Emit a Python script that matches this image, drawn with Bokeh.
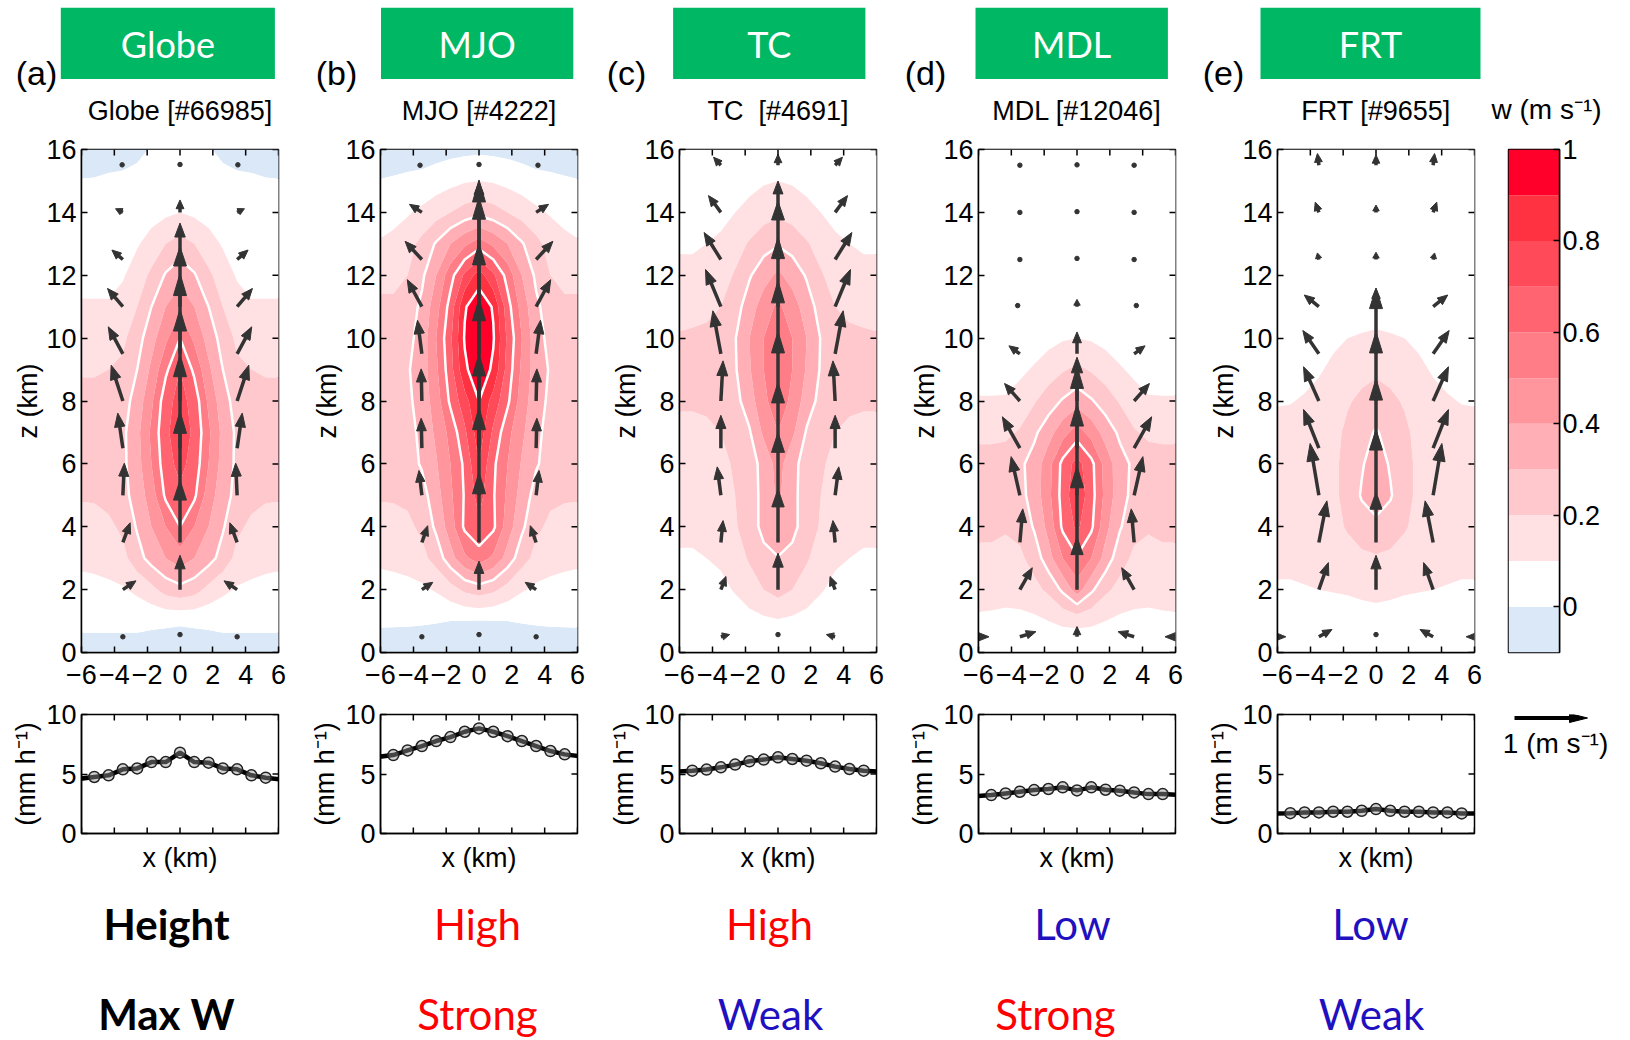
import math
import numpy as np
from bokeh.plotting import figure
from bokeh.layouts import column, row
from bokeh.models import Range1d, FixedTicker
from bokeh.core.properties import value
from bokeh.embed import file_html
from bokeh.resources import INLINE

# ------------------------------------------------------------------ data
BOX_LABELS = ["Globe", "MJO", "TC", "MDL", "FRT"]
PANEL_LETTERS = ["(a)", "(b)", "(c)", "(d)", "(e)"]
PANEL_TITLES = ["Globe [#66985]", "MJO [#4222]", "TC\u00a0 [#4691]", "MDL [#12046]", "FRT [#9655]"]
ROW_HEADERS = ["Height", "Max W"]
HEIGHT_CLASS = ["High", "High", "Low", "Low"]
MAXW_CLASS = ["Strong", "Weak", "Strong", "Weak"]

# w (m/s) on a half grid (x >= 0, mirrored), rows z = 0..16 km
X_HALF = [0.0, 0.87, 1.74, 2.61, 3.48, 4.35, 5.22, 6.09]
Z_ROWS = [0, 1, 2, 3, 4, 5, 6, 7, 8, 9, 10, 11, 12, 13, 14, 15, 16]

W_GLOBE = [
    [-0.05, -0.05, -0.05, -0.05, -0.05, -0.05, -0.05, -0.05],
    [0.01, 0.015, 0.02, 0.03, 0.03, 0.03, 0.03, 0.03],
    [0.27, 0.24, 0.17, 0.12, 0.09, 0.08, 0.07, 0.07],
    [0.45, 0.40, 0.34, 0.26, 0.17, 0.14, 0.13, 0.12],
    [0.60, 0.50, 0.40, 0.31, 0.22, 0.18, 0.17, 0.16],
    [0.68, 0.62, 0.45, 0.34, 0.27, 0.23, 0.21, 0.21],
    [0.73, 0.66, 0.50, 0.36, 0.28, 0.25, 0.24, 0.24],
    [0.76, 0.68, 0.52, 0.37, 0.28, 0.26, 0.25, 0.25],
    [0.74, 0.66, 0.48, 0.34, 0.26, 0.24, 0.23, 0.23],
    [0.70, 0.58, 0.42, 0.30, 0.22, 0.20, 0.19, 0.19],
    [0.60, 0.48, 0.36, 0.26, 0.18, 0.16, 0.15, 0.15],
    [0.48, 0.40, 0.30, 0.20, 0.14, 0.11, 0.11, 0.11],
    [0.36, 0.31, 0.22, 0.15, 0.09, 0.07, 0.07, 0.07],
    [0.24, 0.20, 0.14, 0.09, 0.05, 0.04, 0.04, 0.04],
    [0.10, 0.08, 0.06, 0.04, 0.03, 0.02, 0.02, 0.02],
    [0.04, 0.03, 0.025, 0.02, 0.015, 0.012, 0.005, 0.003],
    [0.02, 0.015, 0.005, -0.015, -0.03, -0.035, -0.04, -0.04],
]
W_MJO = [
    [-0.06, -0.06, -0.06, -0.06, -0.06, -0.06, -0.06, -0.06],
    [-0.004, -0.003, 0.0, 0.005, 0.01, 0.013, 0.015, 0.016],
    [0.25, 0.22, 0.16, 0.11, 0.08, 0.07, 0.06, 0.06],
    [0.55, 0.48, 0.36, 0.24, 0.17, 0.14, 0.13, 0.12],
    [0.68, 0.62, 0.45, 0.32, 0.22, 0.18, 0.17, 0.16],
    [0.74, 0.61, 0.48, 0.36, 0.26, 0.22, 0.21, 0.21],
    [0.80, 0.62, 0.50, 0.39, 0.31, 0.26, 0.24, 0.24],
    [0.86, 0.68, 0.53, 0.42, 0.32, 0.27, 0.26, 0.26],
    [0.90, 0.76, 0.62, 0.45, 0.34, 0.28, 0.26, 0.26],
    [0.97, 0.88, 0.66, 0.48, 0.35, 0.29, 0.27, 0.27],
    [1.00, 0.91, 0.68, 0.50, 0.34, 0.27, 0.25, 0.25],
    [0.97, 0.89, 0.64, 0.46, 0.32, 0.25, 0.22, 0.22],
    [0.85, 0.72, 0.56, 0.40, 0.28, 0.20, 0.17, 0.17],
    [0.55, 0.48, 0.40, 0.31, 0.23, 0.16, 0.12, 0.105],
    [0.27, 0.24, 0.20, 0.16, 0.12, 0.09, 0.075, 0.07],
    [0.10, 0.09, 0.07, 0.05, 0.03, 0.02, 0.01, 0.003],
    [-0.02, -0.025, -0.03, -0.04, -0.05, -0.05, -0.05, -0.05],
]
W_TC = [
    [0.02, 0.02, 0.02, 0.02, 0.02, 0.02, 0.02, 0.02],
    [0.09, 0.08, 0.06, 0.04, 0.03, 0.02, 0.02, 0.02],
    [0.24, 0.20, 0.16, 0.11, 0.07, 0.06, 0.05, 0.05],
    [0.295, 0.27, 0.21, 0.16, 0.12, 0.10, 0.09, 0.09],
    [0.38, 0.33, 0.25, 0.19, 0.15, 0.13, 0.12, 0.12],
    [0.42, 0.33, 0.25, 0.20, 0.16, 0.15, 0.15, 0.15],
    [0.44, 0.33, 0.26, 0.21, 0.18, 0.17, 0.17, 0.17],
    [0.50, 0.42, 0.29, 0.23, 0.20, 0.19, 0.19, 0.19],
    [0.55, 0.48, 0.35, 0.27, 0.23, 0.21, 0.205, 0.205],
    [0.58, 0.50, 0.39, 0.29, 0.25, 0.24, 0.23, 0.23],
    [0.58, 0.50, 0.40, 0.295, 0.25, 0.23, 0.22, 0.21],
    [0.52, 0.45, 0.35, 0.26, 0.20, 0.17, 0.16, 0.16],
    [0.42, 0.36, 0.29, 0.21, 0.16, 0.13, 0.12, 0.12],
    [0.29, 0.26, 0.21, 0.16, 0.12, 0.10, 0.09, 0.09],
    [0.18, 0.16, 0.13, 0.10, 0.07, 0.05, 0.05, 0.05],
    [0.10, 0.09, 0.07, 0.05, 0.04, 0.03, 0.03, 0.03],
    [0.05, 0.05, 0.04, 0.03, 0.03, 0.02, 0.02, 0.02],
]
W_MDL = [
    [0.0, 0.01, 0.015, 0.02, 0.02, 0.02, 0.02, 0.02],
    [0.13, 0.12, 0.10, 0.08, 0.07, 0.07, 0.075, 0.08],
    [0.45, 0.32, 0.22, 0.17, 0.15, 0.14, 0.15, 0.15],
    [0.59, 0.50, 0.36, 0.24, 0.18, 0.17, 0.18, 0.18],
    [0.72, 0.62, 0.43, 0.31, 0.23, 0.21, 0.22, 0.22],
    [0.78, 0.64, 0.47, 0.34, 0.27, 0.25, 0.25, 0.25],
    [0.74, 0.63, 0.46, 0.34, 0.28, 0.25, 0.25, 0.25],
    [0.55, 0.46, 0.36, 0.28, 0.21, 0.18, 0.17, 0.17],
    [0.36, 0.31, 0.25, 0.19, 0.14, 0.11, 0.11, 0.11],
    [0.22, 0.19, 0.15, 0.11, 0.08, 0.06, 0.05, 0.05],
    [0.10, 0.09, 0.07, 0.05, 0.03, 0.02, 0.02, 0.02],
    [0.04, 0.03, 0.02, 0.01, 0.01, 0.01, 0.01, 0.01],
    [0.01, 0.01, 0.01, 0.01, 0.01, 0.01, 0.01, 0.01],
    [0.01, 0.01, 0.01, 0.01, 0.01, 0.01, 0.01, 0.01],
    [0.01, 0.01, 0.01, 0.01, 0.01, 0.01, 0.01, 0.01],
    [0.01, 0.01, 0.01, 0.01, 0.01, 0.01, 0.01, 0.01],
    [0.01, 0.01, 0.01, 0.01, 0.01, 0.01, 0.01, 0.01],
]
W_FRT = [
    [0.02, 0.02, 0.02, 0.02, 0.02, 0.02, 0.02, 0.02],
    [0.06, 0.06, 0.055, 0.05, 0.045, 0.04, 0.04, 0.04],
    [0.13, 0.12, 0.11, 0.105, 0.10, 0.095, 0.09, 0.09],
    [0.19, 0.18, 0.16, 0.14, 0.13, 0.125, 0.12, 0.12],
    [0.27, 0.25, 0.21, 0.17, 0.15, 0.14, 0.14, 0.14],
    [0.36, 0.31, 0.23, 0.18, 0.16, 0.15, 0.15, 0.15],
    [0.35, 0.29, 0.23, 0.18, 0.16, 0.15, 0.15, 0.15],
    [0.31, 0.26, 0.22, 0.17, 0.15, 0.14, 0.14, 0.14],
    [0.24, 0.22, 0.19, 0.15, 0.13, 0.11, 0.095, 0.09],
    [0.185, 0.17, 0.15, 0.12, 0.09, 0.07, 0.06, 0.06],
    [0.12, 0.11, 0.10, 0.08, 0.06, 0.05, 0.04, 0.04],
    [0.05, 0.05, 0.04, 0.04, 0.03, 0.03, 0.03, 0.03],
    [0.03, 0.03, 0.03, 0.03, 0.03, 0.03, 0.03, 0.03],
    [0.02, 0.02, 0.02, 0.02, 0.02, 0.02, 0.02, 0.02],
    [0.02, 0.02, 0.02, 0.02, 0.02, 0.02, 0.02, 0.02],
    [0.02, 0.02, 0.02, 0.02, 0.02, 0.02, 0.02, 0.02],
    [0.02, 0.02, 0.02, 0.02, 0.02, 0.02, 0.02, 0.02],
]

# colour levels of w (m/s)
W_LEVELS = [-0.1, 0.0, 0.1, 0.2, 0.3, 0.4, 0.5, 0.6, 0.7, 0.8, 0.9, 1.0]
W_COLORS = ["#dae8f7", "#ffffff", "#ffe1e4", "#ffc8cd", "#ffafb5", "#ff969e",
            "#ff7d87", "#ff6470", "#ff4b59", "#ff3242", "#ff002b"]
W_LINE_LEVELS = [0.3, 0.6, 0.9]

# wind vectors (arrow units, 1 = 1 m/s reference arrow), at z = ARROW_Z
ARROW_Z = [0.5, 2.0, 3.5, 5.0, 6.5, 8.0, 9.5, 11.0, 12.5, 14.0, 15.5]
ARROW_X_SIDE = 3.48
ARROW_X_OUTER = 6.96

U_SIDE_GLOBE = [0.0, -0.18, -0.10, -0.02, 0.07, 0.16, 0.20, 0.21, 0.15, 0.10, 0.02]
W_SIDE_GLOBE = [0.0, 0.12, 0.27, 0.44, 0.48, 0.49, 0.37, 0.25, 0.13, 0.05, 0.01]
W_CENT_GLOBE = [0.06, 0.47, 0.85, 1.15, 1.28, 1.26, 1.10, 0.82, 0.50, 0.17, 0.02]

U_SIDE_MJO = [0.0, -0.15, -0.08, 0.04, 0.01, 0.01, 0.06, 0.20, 0.23, 0.17, 0.05]
W_SIDE_MJO = [0.0, 0.10, 0.23, 0.34, 0.41, 0.44, 0.46, 0.37, 0.25, 0.11, 0.0]
W_CENT_MJO = [0.06, 0.39, 0.96, 1.20, 1.29, 1.40, 1.52, 1.50, 1.09, 0.42, 0.02]

U_SIDE_TC = [-0.12, -0.07, -0.03, 0.05, 0.0, -0.03, 0.11, 0.21, 0.23, 0.17, 0.10]
W_SIDE_TC = [0.03, 0.18, 0.30, 0.39, 0.45, 0.55, 0.59, 0.51, 0.37, 0.23, 0.11]
W_CENT_TC = [0.06, 0.50, 0.73, 0.86, 0.90, 0.95, 1.00, 0.95, 0.80, 0.43, 0.15]

U_SIDE_MDL = [-0.22, -0.17, -0.04, 0.12, 0.24, 0.21, 0.15, 0.06, 0.0, 0.0, 0.0]
W_SIDE_MDL = [0.07, 0.30, 0.46, 0.53, 0.43, 0.24, 0.11, 0.03, 0.0, 0.0, 0.0]
W_CENT_MDL = [0.14, 0.72, 1.05, 1.25, 1.12, 0.60, 0.30, 0.10, 0.03, 0.02, 0.01]

U_SIDE_FRT = [-0.18, -0.13, -0.11, 0.12, 0.21, 0.21, 0.22, 0.20, 0.02, 0.05, 0.02]
W_SIDE_FRT = [0.10, 0.37, 0.57, 0.71, 0.53, 0.47, 0.32, 0.16, 0.09, 0.14, 0.16]
W_CENT_FRT = [0.06, 0.47, 0.69, 0.90, 0.95, 0.95, 0.90, 0.25, 0.10, 0.10, 0.14]

U_OUTER_GLOBE = [0.0] * 11
U_OUTER_MJO = [0.0] * 11
U_OUTER_TC = [0.0] * 11
U_OUTER_MDL = [-0.36, 0, 0, 0, 0, 0, 0, 0, 0, 0, 0]
U_OUTER_FRT = [-0.33, 0, 0, 0, 0, 0, 0, 0, 0, 0, 0]

# precipitation (mm/h)
PRECIP_X = [-6.09, -5.22, -4.35, -3.48, -2.61, -1.74, -0.87, 0.0,
            0.87, 1.74, 2.61, 3.48, 4.35, 5.22, 6.09]
PRECIP_GLOBE = [4.6, 4.75, 4.89, 5.39, 5.47, 6.0, 6.0, 6.79, 6.0, 5.95, 5.47, 5.39, 4.89, 4.69, 4.55]
PRECIP_MJO = [6.45, 6.59, 6.98, 7.35, 7.77, 8.1, 8.55, 8.83, 8.55, 8.18, 7.77, 7.35, 6.93, 6.65, 6.5]
PRECIP_TC = [5.2, 5.28, 5.37, 5.56, 5.79, 6.07, 6.21, 6.4, 6.26, 6.12, 5.9, 5.62, 5.42, 5.28, 5.2]
PRECIP_MDL = [3.15, 3.23, 3.37, 3.51, 3.65, 3.74, 3.88, 3.62, 3.88, 3.68, 3.6, 3.45, 3.31, 3.31, 3.25]
PRECIP_FRT = [1.68, 1.71, 1.77, 1.77, 1.83, 1.83, 1.91, 2.05, 1.91, 1.83, 1.83, 1.77, 1.77, 1.69, 1.68]

X_TICKS = [-6, -4, -2, 0, 2, 4, 6]
Z_TICKS = [0, 2, 4, 6, 8, 10, 12, 14, 16]
P_TICKS = [0, 5, 10]
CB_TICKS = [0.0, 0.2, 0.4, 0.6, 0.8, 1.0]

PANELS = [
    (W_GLOBE, U_SIDE_GLOBE, W_SIDE_GLOBE, W_CENT_GLOBE, U_OUTER_GLOBE, PRECIP_GLOBE),
    (W_MJO, U_SIDE_MJO, W_SIDE_MJO, W_CENT_MJO, U_OUTER_MJO, PRECIP_MJO),
    (W_TC, U_SIDE_TC, W_SIDE_TC, W_CENT_TC, U_OUTER_TC, PRECIP_TC),
    (W_MDL, U_SIDE_MDL, W_SIDE_MDL, W_CENT_MDL, U_OUTER_MDL, PRECIP_MDL),
    (W_FRT, U_SIDE_FRT, W_SIDE_FRT, W_CENT_FRT, U_OUTER_FRT, PRECIP_FRT),
]

# ------------------------------------------------------------------ style / layout
AX_FONT = "Liberation Sans"
BOX_FONT = "Lato"
GREEN = "#00b864"
RED = "#ff0000"
BLUE = "#1f10c0"
ARROW_COLOR = "#333333"
CLASS_COLOR = {"High": RED, "Strong": RED, "Low": BLUE, "Weak": BLUE}

FRAME_W = 197
FRAME_H = 503
BOT_H = 119
ARROW_PX = 73.0          # pixel length of a 1 m/s arrow
LEFT_B = [81, 80, 80, 80, 80]
RIGHT_B = 22
HEADER_H = 135
FOOTER_H = 162
TICK_LEN = 6.0

X_OVR = {t: (("\u2212" + str(-t)) if t < 0 else str(t)) for t in X_TICKS}
CB_OVR = {0.0: "0", 0.2: "0.2", 0.4: "0.4", 0.6: "0.6", 0.8: "0.8", 1.0: "1"}


def base_fig(fw, fh, xr, yr, left, right, top, bottom, axes=True, **extra):
    kw = dict(extra)
    if not axes:
        kw.update(x_axis_location=None, y_axis_location=None)
    p = figure(frame_width=fw, frame_height=fh, x_range=xr, y_range=yr,
               min_border_left=left, min_border_right=right,
               min_border_top=top, min_border_bottom=bottom,
               output_backend="svg", toolbar_location=None, **kw)
    p.grid.visible = False
    p.background_fill_color = "white"
    p.border_fill_color = "white"
    if axes:
        p.outline_line_color = "black"
        p.outline_line_width = 1.5
    else:
        p.outline_line_color = None
    return p


def style_axis(ax, ticks, overrides=None, standoff=5):
    ax.ticker = FixedTicker(ticks=ticks, minor_ticks=[])
    ax.axis_line_color = "black"
    ax.axis_line_width = 1.5
    ax.major_tick_in = int(TICK_LEN)
    ax.major_tick_out = 0
    ax.minor_tick_in = 0
    ax.minor_tick_out = 0
    ax.major_tick_line_color = "black"
    ax.major_tick_line_width = 1.5
    ax.major_label_text_font = AX_FONT
    ax.major_label_text_font_size = "27px"
    ax.major_label_text_color = "black"
    ax.major_label_standoff = standoff
    ax.axis_label_text_font = AX_FONT
    ax.axis_label_text_font_size = "27px"
    ax.axis_label_text_font_style = "normal"
    ax.axis_label_text_color = "black"
    if overrides:
        ax.major_label_overrides = overrides


def edge_ticks(p, xticks, yticks, xr, yr, ppx, ppy, bottom=False):
    """inward tick marks on the top / right (and optionally bottom) frame edges"""
    p.segment(x0=xticks, y0=[yr[1]] * len(xticks), x1=xticks,
              y1=[yr[1] - TICK_LEN / ppy] * len(xticks), line_color="black", line_width=1.5)
    p.segment(x0=[xr[1]] * len(yticks), y0=yticks, x1=[xr[1] - TICK_LEN / ppx] * len(yticks),
              y1=yticks, line_color="black", line_width=1.5)
    if bottom:
        p.segment(x0=xticks, y0=[yr[0]] * len(xticks), x1=xticks,
                  y1=[yr[0] + TICK_LEN / ppy] * len(xticks), line_color="black", line_width=1.5)


def draw_arrows(p, x0s, z0s, us, ws, ppx, ppz, color, shaft_w, hmax=22.0, wmax=13.0):
    sx0, sz0, sx1, sz1 = [], [], [], []
    hx, hz = [], []
    dx_, dz_ = [], []
    for x0, z0, u, w in zip(x0s, z0s, us, ws):
        dxp = u * ARROW_PX
        dzp = w * ARROW_PX
        L = math.hypot(dxp, dzp)
        if L < 5.0:
            dx_.append(x0 + dxp / 2 / ppx)
            dz_.append(z0 + dzp / 2 / ppz)
            continue
        ux, uz = dxp / L, dzp / L
        h = min(hmax, 6.0 + 0.22 * L, 0.8 * L)
        hw = 0.5 * min(wmax, 0.5 * h + 3.5)
        bx, bz = dxp - ux * h, dzp - uz * h
        sx0.append(x0)
        sz0.append(z0)
        sx1.append(x0 + (bx + ux * 1.0) / ppx)
        sz1.append(z0 + (bz + uz * 1.0) / ppz)
        hx.append([x0 + dxp / ppx,
                   x0 + (bx - uz * hw) / ppx,
                   x0 + (bx + uz * hw) / ppx])
        hz.append([z0 + dzp / ppz,
                   z0 + (bz + ux * hw) / ppz,
                   z0 + (bz - ux * hw) / ppz])
    if sx0:
        p.segment(x0=sx0, y0=sz0, x1=sx1, y1=sz1, line_color=color, line_width=shaft_w)
        p.patches(xs=hx, ys=hz, fill_color=color, line_color=color, line_width=1)
    if dx_:
        p.scatter(x=dx_, y=dz_, marker="circle", size=4.5, fill_color=color, line_color=color)


# ------------------------------------------------------------------ header
hdr = base_fig(1630, HEADER_H, Range1d(0, 1630), Range1d(HEADER_H, 0), 0, 0, 0, 0, axes=False)
BOX_LEFT = [60.3, 380.5, 672.6, 975.0, 1260.0]
BOX_RIGHT = [274.4, 572.8, 864.9, 1167.4, 1480.0]
hdr.quad(left=BOX_LEFT, right=BOX_RIGHT, top=[7.3] * 5, bottom=[78.5] * 5,
         fill_color=GREEN, line_color=None)
hdr.text(x=[(a + b) / 2 for a, b in zip(BOX_LEFT, BOX_RIGHT)], y=[43.5] * 5, text=BOX_LABELS,
         text_font=value(BOX_FONT), text_font_size=value("36px"), text_color="white",
         text_align="center", text_baseline="middle")
hdr.text(x=[36, 336, 626, 925, 1223], y=[72] * 5, text=PANEL_LETTERS,
         text_font=value(AX_FONT), text_font_size=value("34px"), text_color="black",
         text_align="center", text_baseline="middle")
frame_left = []
acc = 0
for L in LEFT_B:
    frame_left.append(acc + L)
    acc += L + FRAME_W + RIGHT_B
hdr.text(x=[fl + FRAME_W / 2 for fl in frame_left], y=[110] * 5, text=PANEL_TITLES,
         text_font=value(AX_FONT), text_font_size=value("27px"), text_color="black",
         text_align="center", text_baseline="middle")
hdr.text(x=[1546], y=[109], text=["w (m s\u207b\u00b9)"],
         text_font=value(AX_FONT), text_font_size=value("28px"), text_color="black",
         text_align="center", text_baseline="middle")

# ------------------------------------------------------------------ panels
XS_FULL = [-v for v in X_HALF[:0:-1]] + X_HALF
FILL_LEVELS = [-1.0] + W_LEVELS[1:-1] + [2.0]
PPX = FRAME_W / 12.0
PPZ = FRAME_H / 16.0
PPP = BOT_H / 10.0

top_figs = []
bot_figs = []
for i, (W, US, WS, WC, UO, PR) in enumerate(PANELS):
    Z = np.array([r[:0:-1] + r for r in W], dtype=float)
    p = base_fig(FRAME_W, FRAME_H, Range1d(-6, 6), Range1d(0, 16),
                 LEFT_B[i], RIGHT_B, 14, 48)
    p.contour(x=XS_FULL, y=Z_ROWS, z=Z, levels=FILL_LEVELS,
              fill_color=W_COLORS, line_color=None)
    p.contour(x=XS_FULL, y=Z_ROWS, z=Z, levels=W_LINE_LEVELS,
              line_color="white", line_width=2.5)
    n = len(ARROW_Z)
    ax0 = ([-ARROW_X_OUTER] * n + [-ARROW_X_SIDE] * n + [0.0] * n +
           [ARROW_X_SIDE] * n + [ARROW_X_OUTER] * n)
    az0 = ARROW_Z * 5
    au = [-u for u in UO] + [-u for u in US] + [0.0] * n + US + UO
    aw = [0.0] * n + WS + WC + WS + [0.0] * n
    draw_arrows(p, ax0, az0, au, aw, PPX, PPZ, ARROW_COLOR, 3.5)
    edge_ticks(p, X_TICKS, Z_TICKS, (-6, 6), (0, 16), PPX, PPZ)

    style_axis(p.xaxis[0], X_TICKS, X_OVR, standoff=12)
    style_axis(p.yaxis[0], Z_TICKS, standoff=5)
    p.yaxis[0].axis_label = "z (km)"
    p.yaxis[0].axis_label_standoff = 0
    top_figs.append(p)

    q = base_fig(FRAME_W, BOT_H, Range1d(-6, 6), Range1d(0, 10),
                 LEFT_B[i], RIGHT_B, 14, 45)
    q.line(x=PRECIP_X, y=PR, line_color="black", line_width=4.5)
    cx = [x for x in PRECIP_X if abs(x) <= 6]
    cy = [v for x, v in zip(PRECIP_X, PR) if abs(x) <= 6]
    q.scatter(x=cx, y=cy, marker="circle", size=11, line_color="#222222", line_width=1.5,
              fill_color="#9a9a9a", fill_alpha=0.45)
    edge_ticks(q, X_TICKS, P_TICKS, (-6, 6), (0, 10), PPX, PPP, bottom=True)
    style_axis(q.xaxis[0], [], standoff=0)
    q.xaxis[0].axis_label = "x (km)"
    q.xaxis[0].axis_label_standoff = 9
    style_axis(q.yaxis[0], P_TICKS, standoff=5)
    q.yaxis[0].axis_label = "(mm h\u207b\u00b9)"
    q.yaxis[0].axis_label_standoff = 2
    bot_figs.append(q)

# ------------------------------------------------------------------ colour bar
cb = base_fig(51, FRAME_H, Range1d(0, 1), Range1d(W_LEVELS[0], W_LEVELS[-1]),
              12, 71, 14, 48, x_axis_location=None, y_axis_location="right")
cb.quad(left=0, right=1, bottom=W_LEVELS[:-1], top=W_LEVELS[1:],
        fill_color=W_COLORS, line_color=None)
style_axis(cb.yaxis[0], CB_TICKS, CB_OVR, standoff=3)

# ------------------------------------------------------------------ reference arrow
LEG_W = 134
leg = base_fig(LEG_W, BOT_H, Range1d(0, LEG_W / ARROW_PX), Range1d(BOT_H, 0),
               0, 0, 14, 45, axes=False)
draw_arrows(leg, [18 / ARROW_PX], [3.5], [1.0], [0.0], ARROW_PX, -1.0, "black", 4.0,
            hmax=18.0, wmax=9.0)
leg.text(x=[59 / ARROW_PX], y=[29], text=["1 (m s\u207b\u00b9)"],
         text_font=value(AX_FONT), text_font_size=value("28px"), text_color="black",
         text_align="center", text_baseline="middle")

# ------------------------------------------------------------------ footer
ftr = base_fig(1630, FOOTER_H, Range1d(0, 1630), Range1d(FOOTER_H, 0), 0, 0, 0, 0, axes=False)
ftr.text(x=[166, 166], y=[45.7, 135.7], text=ROW_HEADERS,
         text_font=value(BOX_FONT), text_font_size=value("42px"), text_font_style="bold",
         text_color="black", text_align="center", text_baseline="middle")
ftr.text(x=[477, 769, 1072, 1370], y=[45.7] * 4, text=HEIGHT_CLASS,
         text_font=value(BOX_FONT), text_font_size=value("42px"),
         text_color=[CLASS_COLOR[c] for c in HEIGHT_CLASS],
         text_align="center", text_baseline="middle")
ftr.text(x=[477, 770, 1055, 1371], y=[135.7] * 4, text=MAXW_CLASS,
         text_font=value(BOX_FONT), text_font_size=value("42px"),
         text_color=[CLASS_COLOR[c] for c in MAXW_CLASS],
         text_align="center", text_baseline="middle")

layout = column(hdr, row(*top_figs, cb), row(*bot_figs, leg), ftr)
open("out.html", "w").write(file_html(layout, INLINE))
